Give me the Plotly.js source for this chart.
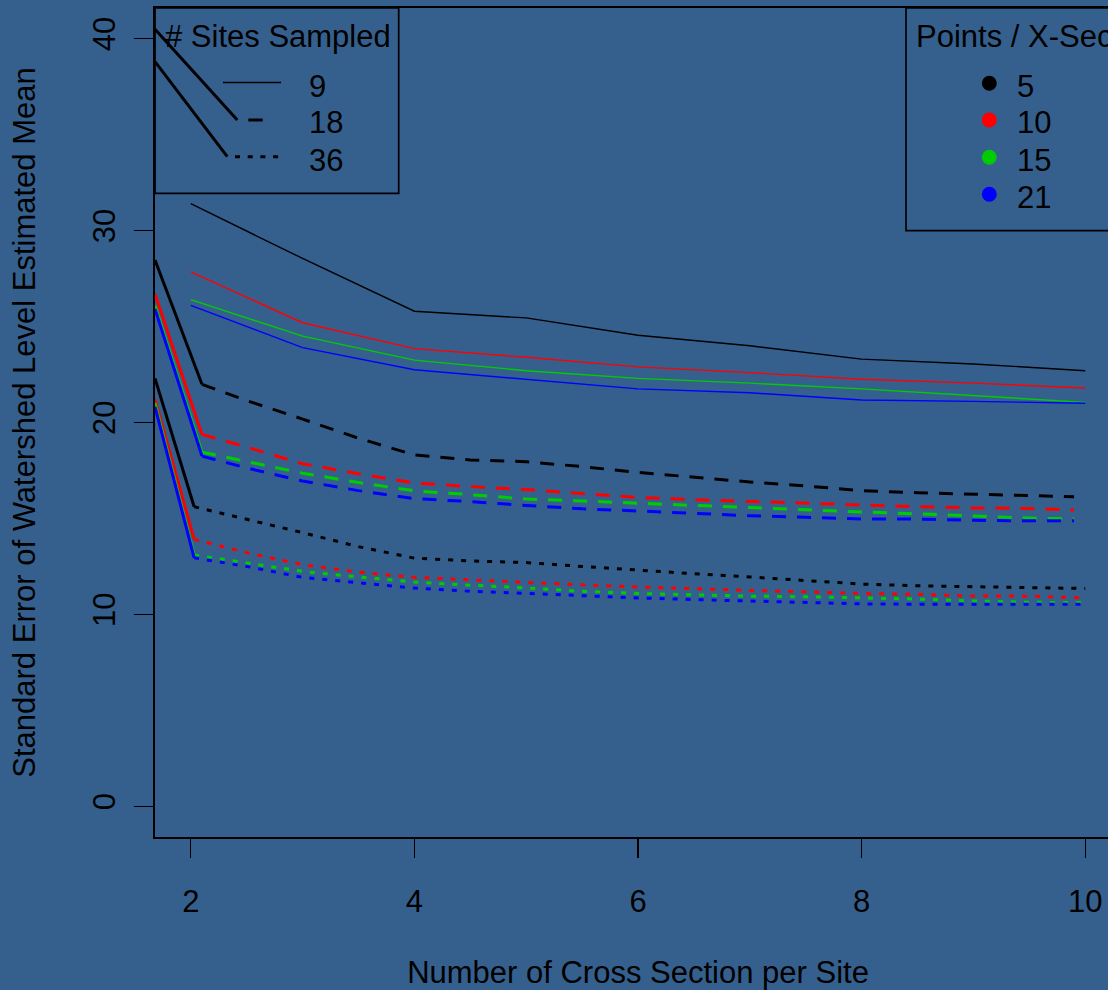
<!DOCTYPE html>
<html><head><meta charset="utf-8">
<script src="https://cdn.plot.ly/plotly-3.0.1.min.js"></script>
<style>
html,body{margin:0;padding:0;overflow:hidden;background:#35608E;}
#chart{width:1130px;height:990px;}
</style>
</head><body><div id="chart"></div>
<script>
// ---------------- DATA ----------------
const xTitle = 'Number of Cross Section per Site';
const yTitle = 'Standard Error of Watershed Level Estimated Mean';
const sitesLegendTitle = '# Sites Sampled';
const pointsLegendTitle = 'Points / X-Sec';
const siteLabels = ['9', '18', '36'];
const pointLabels = ['5', '10', '15', '21'];
const xTickVals = [2, 4, 6, 8, 10];
const yTickVals = [0, 10, 20, 30, 40];

// 9 sites sampled (solid lines)
const xSolid = [2, 3, 4, 5, 6, 7, 8, 9, 10];
const se9_p5  = [31.4, 28.55, 25.8, 25.45, 24.55, 24.0, 23.3, 23.05, 22.7];
const se9_p10 = [27.85, 25.2, 23.85, 23.4, 22.9, 22.6, 22.25, 22.05, 21.8];
const se9_p15 = [26.4, 24.5, 23.25, 22.7, 22.3, 22.05, 21.75, 21.4, 21.05];
const se9_p21 = [26.1, 23.9, 22.75, 22.25, 21.75, 21.55, 21.17, 21.1, 21.0];

// 18 sites sampled (dashed lines)
const xDashed = [2.1, 2.5, 3, 3.5, 4, 4.5, 5, 5.5, 6, 6.5, 7, 7.5, 8, 8.5, 9, 9.5, 9.9];
const se18_p5  = [21.99, 21.14, 20.18, 19.18, 18.31, 18.05, 17.96, 17.70, 17.40, 17.15, 16.90, 16.69, 16.45, 16.34, 16.26, 16.19, 16.13];
const se18_p10 = [19.38, 18.72, 17.85, 17.33, 16.85, 16.66, 16.51, 16.31, 16.09, 15.98, 15.88, 15.79, 15.70, 15.61, 15.55, 15.52, 15.44];
const se18_p15 = [18.45, 17.95, 17.36, 16.87, 16.44, 16.24, 16.01, 15.91, 15.81, 15.68, 15.57, 15.44, 15.34, 15.24, 15.12, 15.02, 14.98];
const se18_p21 = [18.25, 17.63, 16.95, 16.45, 16.03, 15.88, 15.68, 15.50, 15.39, 15.27, 15.14, 15.06, 14.97, 14.97, 14.90, 14.88, 14.88];

// 36 sites sampled (dotted lines)
const xDotted = [2.03, 2.5, 3, 3.5, 4, 4.5, 5, 5.5, 6, 6.5, 7, 7.5, 8, 8.5, 9, 9.5, 10];
const se36_p5  = [15.61, 14.97, 14.26, 13.53, 12.93, 12.79, 12.70, 12.50, 12.30, 12.12, 11.95, 11.78, 11.58, 11.49, 11.45, 11.41, 11.35];
const se36_p10 = [13.91, 13.22, 12.59, 12.20, 11.93, 11.79, 11.67, 11.54, 11.43, 11.33, 11.25, 11.18, 11.09, 11.04, 10.96, 10.95, 10.86];
const se36_p15 = [13.10, 12.70, 12.24, 11.95, 11.69, 11.52, 11.38, 11.20, 11.09, 11.02, 10.95, 10.92, 10.86, 10.80, 10.70, 10.63, 10.62];
const se36_p21 = [12.95, 12.50, 11.93, 11.66, 11.37, 11.21, 11.09, 10.96, 10.86, 10.77, 10.70, 10.61, 10.55, 10.53, 10.53, 10.53, 10.53];

// values where the solid lead-in strokes of the dashed / dotted lines enter at the left frame
const leadIn18 = [28.47, 26.70, 26.09, 25.92];
const leadIn36 = [22.30, 21.21, 21.02, 20.82];

// ---------------- STYLE / LAYOUT ----------------
const BG = '#35608E';
const FONT = 'Liberation Sans, Arial, Helvetica, sans-serif';
const FS = 31;
const colors = ['#000000', '#FF0000', '#00CD00', '#0000FF'];
const xRange = [1.68, 10.32];
const yRange = [-1.6, 41.6];
const L = 155, T = 8, W = 966, H = 829;
const PX = px => (px - L) / W;
const PY = py => (T + H - py) / H;

const solidSeries = [se9_p5, se9_p10, se9_p15, se9_p21];
const dashedSeries = [se18_p5, se18_p10, se18_p15, se18_p21];
const dottedSeries = [se36_p5, se36_p10, se36_p15, se36_p21];

const DASH = '14px,11px';
const DOT = '5px,8px';
const traces = [];
for (let i = 0; i < 4; i++) {
  traces.push({x: xSolid, y: solidSeries[i], mode: 'lines', line: {color: colors[i], width: 1.4}});
}
for (let i = 0; i < 4; i++) {
  traces.push({x: [xRange[0], xDashed[0]], y: [leadIn18[i], dashedSeries[i][0]], mode: 'lines', line: {color: colors[i], width: 3}});
  traces.push({x: xDashed, y: dashedSeries[i], mode: 'lines', line: {color: colors[i], width: 3, dash: DASH}});
}
for (let i = 0; i < 4; i++) {
  traces.push({x: [xRange[0], xDotted[0]], y: [leadIn36[i], dottedSeries[i][0]], mode: 'lines', line: {color: colors[i], width: 3}});
  traces.push({x: xDotted, y: dottedSeries[i], mode: 'lines', line: {color: colors[i], width: 3, dash: DOT}});
}

const shapes = [];
const annotations = [];
function seg(x0, y0, x1, y1, width, dash) {
  shapes.push({type: 'line', xref: 'paper', yref: 'paper', x0: PX(x0), y0: PY(y0), x1: PX(x1), y1: PY(y1),
    line: {color: '#000', width: width, dash: dash || 'solid'}, layer: 'above'});
}
function txt(text, x, y, anchor) {
  annotations.push({text: text, xref: 'paper', yref: 'paper', x: PX(x), y: PY(y), xanchor: anchor || 'left', yanchor: 'middle',
    showarrow: false, font: {family: FONT, size: FS, color: '#000'}, borderpad: 0});
}
// legend 1: # Sites Sampled
shapes.push({type: 'rect', xref: 'paper', yref: 'paper', x0: PX(155), x1: PX(398.7), y0: PY(193.3), y1: PY(T),
  line: {color: '#000', width: 1.7}, fillcolor: 'rgba(0,0,0,0)', layer: 'above'});
txt(sitesLegendTitle, 277.5, 36, 'center');
seg(223, 82.5, 281, 82.5, 1.4);
seg(155, 29.3, 237.3, 120, 3);
seg(248.3, 120, 262.7, 120, 3);
seg(155, 61.7, 227.3, 156.7, 3);
seg(235, 156.7, 278.6, 156.7, 3, '5px,7.7px');
const siteRowsY = [86.7, 123, 160];
siteLabels.forEach((s, i) => txt(s, 308, siteRowsY[i]));

// legend 2: Points / X-Sec
shapes.push({type: 'rect', xref: 'paper', yref: 'paper', x0: PX(906), x1: PX(1121), y0: PY(230.7), y1: PY(T),
  line: {color: '#000', width: 1.7}, fillcolor: 'rgba(0,0,0,0)', layer: 'above'});
txt(pointsLegendTitle, 1013.5, 36, 'center');
const pointRowsY = [86.7, 123, 160, 197];
const markerRowsY = [83.3, 120, 157.3, 194.3];
pointLabels.forEach((s, i) => {
  txt(s, 1016, pointRowsY[i]);
  shapes.push({type: 'circle', xref: 'paper', yref: 'paper', xsizemode: 'pixel', ysizemode: 'pixel',
    xanchor: PX(989.3), yanchor: PY(markerRowsY[i]), x0: -7.5, x1: 7.5, y0: -7.5, y1: 7.5,
    fillcolor: colors[i], line: {color: colors[i], width: 0}, layer: 'above'});
});

const axisCommon = {
  showgrid: false, zeroline: false, showline: true, mirror: true, linecolor: '#000', linewidth: 1.7,
  ticks: 'outside', ticklen: 19, tickwidth: 1.4, tickcolor: '#000',
  tickfont: {family: FONT, size: FS, color: '#000'}, fixedrange: true
};
const layout = {
  width: 1130, height: 990,
  margin: {l: L, r: 1130 - L - W, t: T, b: 990 - T - H},
  paper_bgcolor: BG, plot_bgcolor: BG,
  showlegend: false, hovermode: false,
  font: {family: FONT, size: FS, color: '#000'},
  xaxis: Object.assign({}, axisCommon, {range: xRange, tickvals: xTickVals, ticklabelstandoff: 17,
    title: {text: xTitle, font: {family: FONT, size: FS, color: '#000'}, standoff: 58}}),
  yaxis: Object.assign({}, axisCommon, {range: yRange, tickvals: yTickVals, tickangle: -90, ticklabelstandoff: 7,
    title: {text: yTitle, font: {family: FONT, size: FS, color: '#000'}, standoff: 42}}),
  shapes: shapes, annotations: annotations
};
Plotly.newPlot('chart', traces, layout, {staticPlot: true, displayModeBar: false});
</script></body></html>
